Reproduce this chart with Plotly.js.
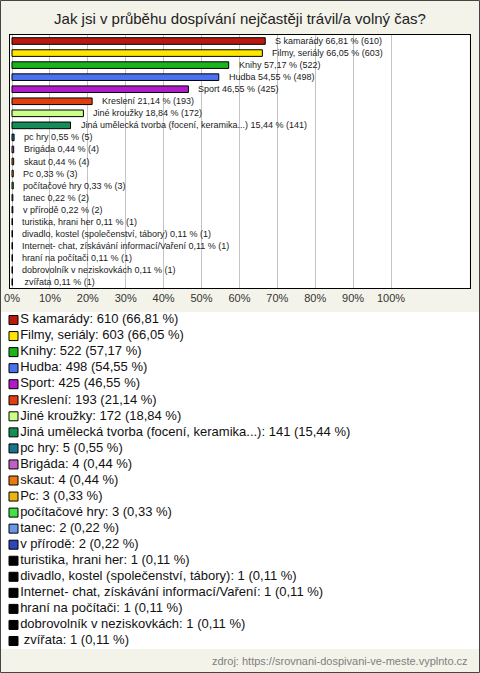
<!DOCTYPE html>
<html>
<head>
<meta charset="utf-8">
<script src="https://cdn.plot.ly/plotly-3.0.1.min.js"></script>
<style>html,body{margin:0;padding:0;background:#f3f3ea;}#chart{width:480px;height:673px;}</style>
</head>
<body>
<div id="chart"></div>
<script>
const categories = ["S kamarády","Filmy, seriály","Knihy","Hudba","Sport","Kreslení","Jiné kroužky","Jiná umělecká tvorba (focení, keramika...)","pc hry","Brigáda","skaut","Pc","počítačové hry","tanec","v přírodě","turistika, hrani her","divadlo, kostel (společenství, tábory)","Internet- chat, získávání informací/Vaření","hraní na počítači","dobrovolník v neziskovkách"," zvířata"];
const counts = [610,603,522,498,425,193,172,141,5,4,4,3,3,2,2,1,1,1,1,1,1];
const percents = [66.81,66.05,57.17,54.55,46.55,21.14,18.84,15.44,0.55,0.44,0.44,0.33,0.33,0.22,0.22,0.11,0.11,0.11,0.11,0.11,0.11];
const colors = ["#b81a0e","#ffe600","#1cb41c","#4a72ee","#b01ac8","#e03e12","#ccff88","#168c56","#18748c","#c060c4","#e87a12","#e8b612","#44e044","#6a98e6","#2a48b6","#000000","#000000","#000000","#000000","#000000","#000000"];
const tickVals = [0,10,20,30,40,50,60,70,80,90,100];
const tickText = ["0%","10%","20%","30%","40%","50%","60%","70%","80%","90%","100%"];
const titleText = "Jak jsi v průběhu dospívání nejčastěji trávil/a volný čas?";
const sourceText = "zdroj: https://srovnani-dospivani-ve-meste.vyplnto.cz";

const fmt = v => v.toFixed(2).replace('.', ',');
const barLabels = categories.map((c,i) => c + " " + fmt(percents[i]) + " % (" + counts[i] + ")");
const legendLabels = categories.map((c,i) => c + ": " + counts[i] + " (" + fmt(percents[i]) + " %)");

const W = 480, H = 673;
const py = p => 1 - p / H;

const bars = {
  type: 'bar', orientation: 'h',
  x: percents, y: categories,
  width: 0.55,
  marker: {color: colors, line: {color: '#000', width: 1}},
  hoverinfo: 'skip', showlegend: false,
  xaxis: 'x', yaxis: 'y'
};

const legendTrace = {
  type: 'scatter', mode: 'markers+text',
  x: categories.map(() => 13.5), y: categories,
  text: legendLabels, textposition: 'middle right',
  textfont: {family: 'Arial, Liberation Sans, sans-serif', size: 13, color: '#111'},
  marker: {symbol: 'square', size: 9, color: colors, line: {color: '#000', width: 1}},
  hoverinfo: 'skip', showlegend: false, cliponaxis: false,
  xaxis: 'x2', yaxis: 'y2'
};

const annotations = categories.map((c,i) => ({
  x: percents[i], y: c, xref: 'x', yref: 'y',
  text: barLabels[i], showarrow: false,
  xanchor: 'left', yanchor: 'middle', xshift: 8,
  font: {family: 'Arial, Liberation Sans, sans-serif', size: 9, color: '#1a1a1a'}
}));
annotations.push({
  x: 470 / W, y: py(661), xref: 'paper', yref: 'paper',
  text: sourceText, showarrow: false, xanchor: 'right', yanchor: 'middle',
  font: {family: 'Arial, Liberation Sans, sans-serif', size: 11, color: '#808080'}
});

const layout = {
  width: W, height: H,
  margin: {l: 0, r: 0, t: 0, b: 0},
  paper_bgcolor: '#f3f3ea', plot_bgcolor: '#ffffff',
  showlegend: false,
  title: {text: titleText, x: 0.5, xanchor: 'center', y: py(19), yanchor: 'middle',
    font: {family: 'Arial, Liberation Sans, sans-serif', size: 15, color: '#222'}},
  xaxis: {
    domain: [10 / W, 469.5 / W], range: [-0.53, 120.7],
    tickvals: tickVals, ticktext: tickText, showgrid: true, gridcolor: '#c4c4c4', gridwidth: 1,
    zeroline: false, showline: true, mirror: true, linecolor: '#000', linewidth: 1,
    ticks: '', tickfont: {family: 'Arial, Liberation Sans, sans-serif', size: 11, color: '#333'},
    fixedrange: true
  },
  yaxis: {
    domain: [py(288), py(35)], type: 'category', range: [20.5, -0.5],
    showticklabels: false, showgrid: false, zeroline: false,
    showline: true, mirror: true, linecolor: '#000', linewidth: 1, ticks: '', fixedrange: true
  },
  xaxis2: {domain: [0, 1], range: [0, W], visible: false, fixedrange: true, anchor: 'y2'},
  yaxis2: {domain: [py(649), py(312)], type: 'category', range: [20.5, -0.5], visible: false, fixedrange: true, anchor: 'x2'},
  annotations: annotations,
  shapes: [{type: 'rect', xref: 'paper', yref: 'paper', x0: 0.5 / W, x1: 1 - 0.5 / W, y0: 0.5 / H, y1: 1 - 0.5 / H,
    line: {color: '#444', width: 1}, fillcolor: 'rgba(0,0,0,0)', layer: 'above'}]
};

Plotly.newPlot('chart', [bars, legendTrace], layout, {staticPlot: true, displayModeBar: false});
</script>
</body>
</html>
